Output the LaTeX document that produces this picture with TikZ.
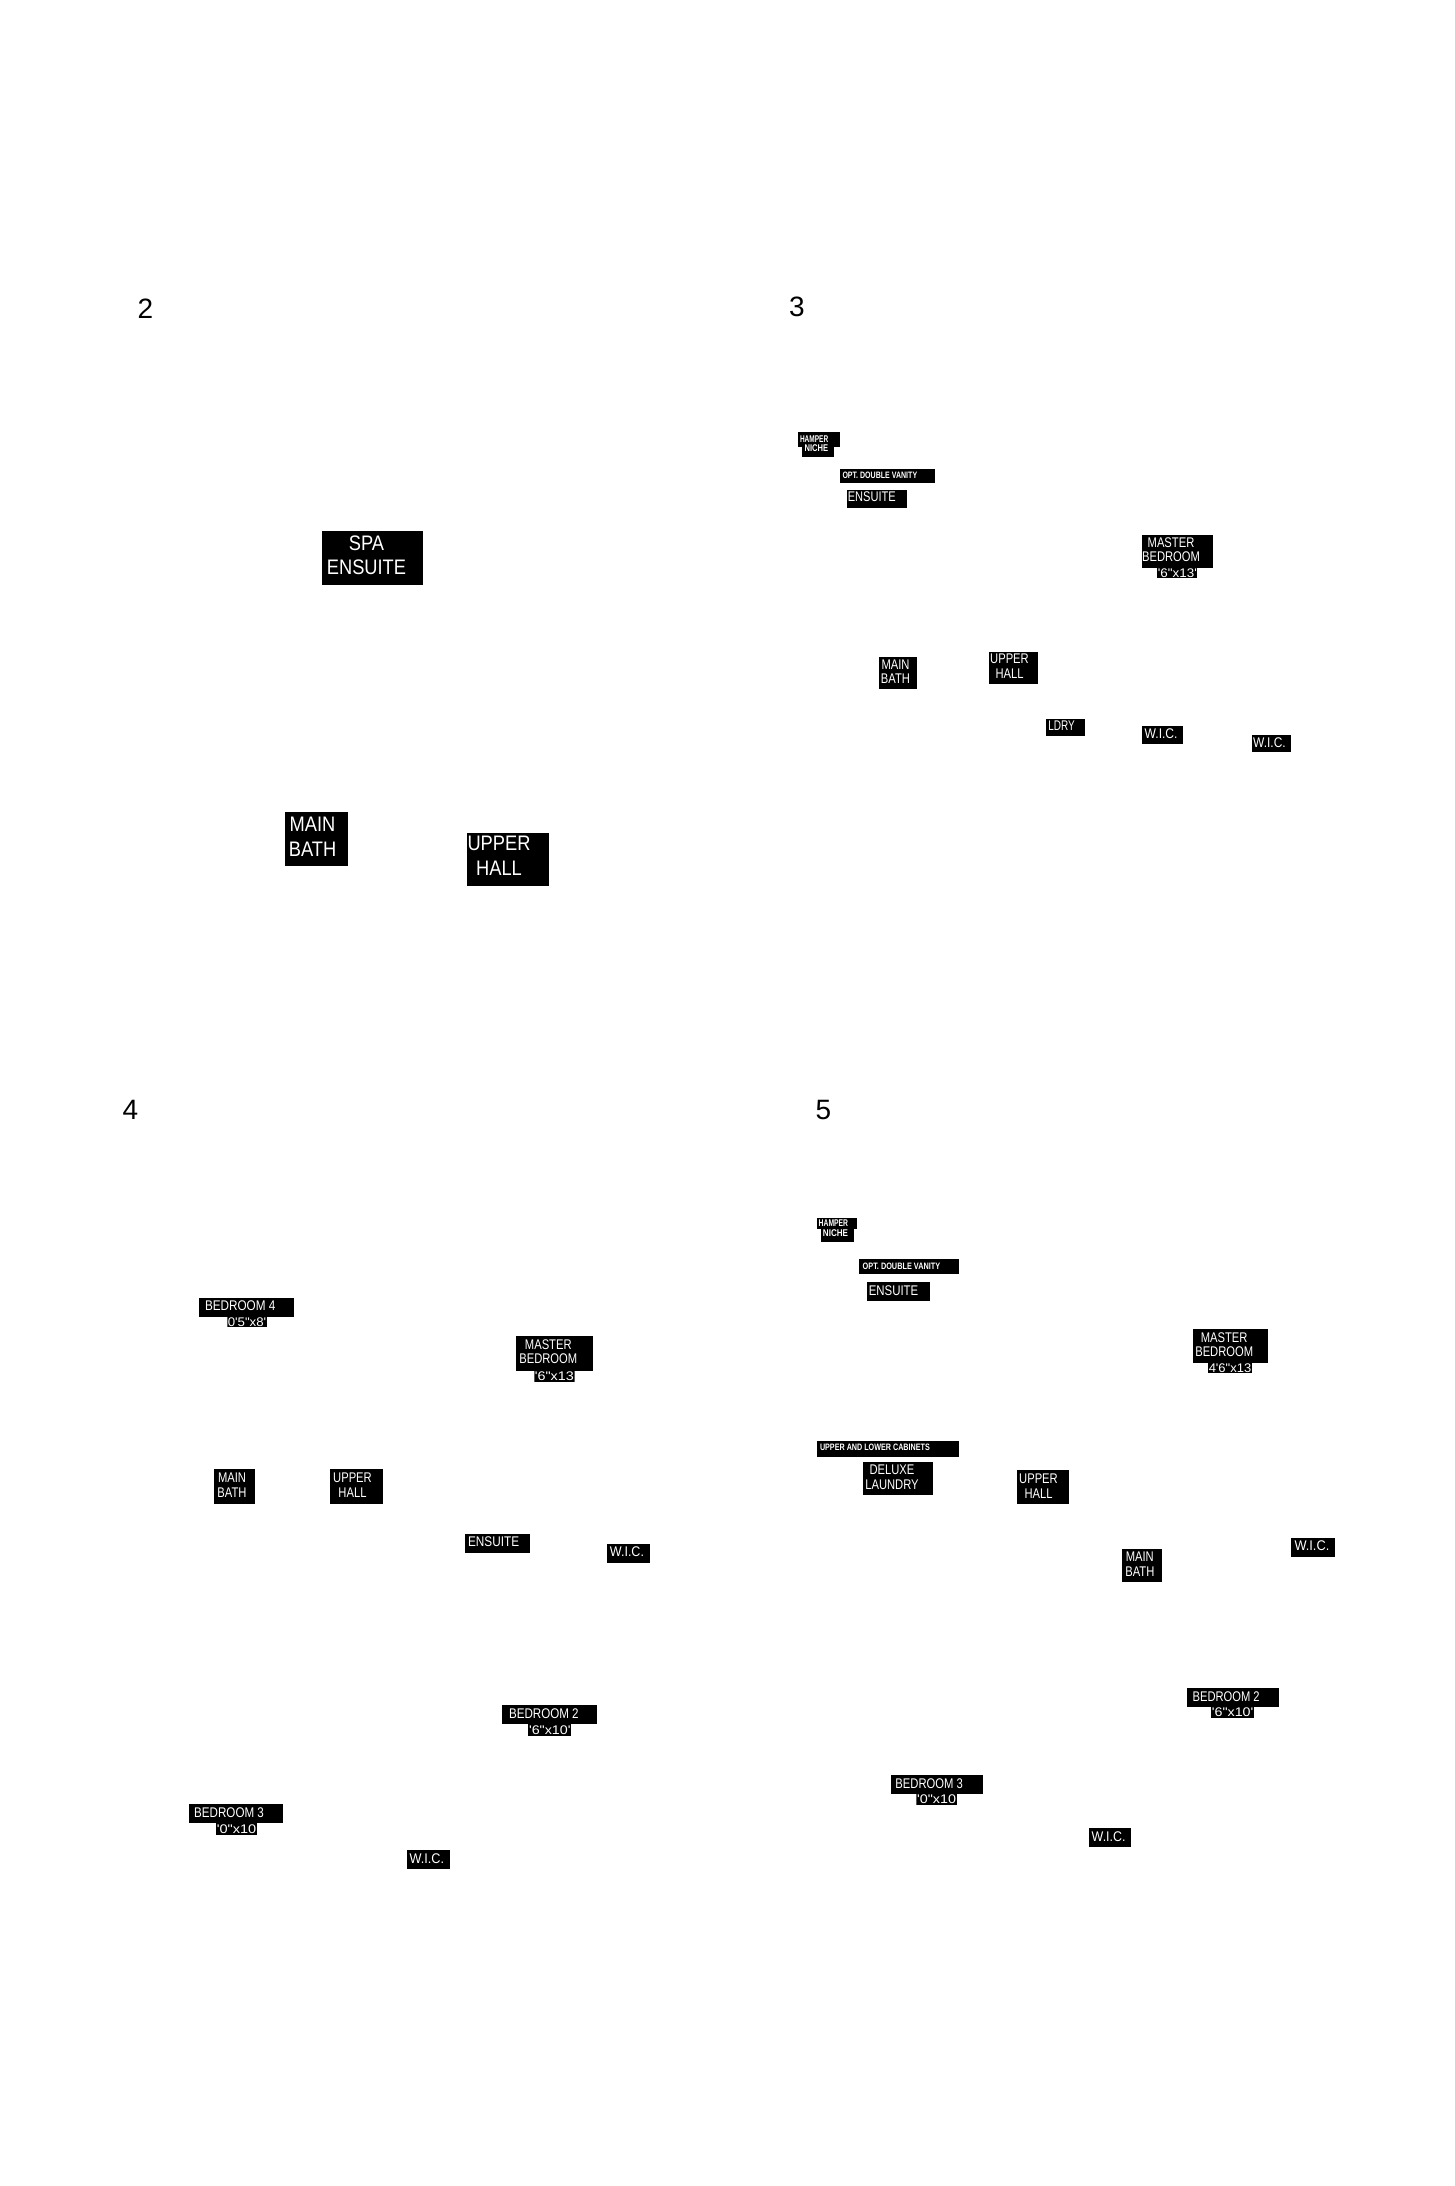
\documentclass[tikz,border=0pt]{standalone}
\usepackage{graphicx}
\usepackage{fontspec}
\setmainfont{Liberation Sans}
\newfontfamily\labfont[FakeStretch=0.8]{Liberation Sans}
\newfontfamily\bigfont[FakeStretch=0.87]{Liberation Sans}
\newfontfamily\dimfont[FakeStretch=0.8,Ligatures=TeXOff]{Liberation Sans}
\begin{document}
\begin{tikzpicture}[x=1pt,y=-1pt,
  num/.style={inner sep=0pt, font=\fontsize{28}{28}\selectfont},
  big/.style={inner sep=0pt, text=white, align=center, font=\bigfont\fontsize{21}{24.3}\selectfont},
  lab/.style={inner sep=0pt, text=white, align=center, font=\labfont\fontsize{14}{14.5}\selectfont},
  one/.style={inner sep=0pt, text=white, anchor=west, font=\labfont\fontsize{14}{14}\selectfont},
  tiny/.style={inner sep=0pt, text=white, anchor=west, font=\labfont\bfseries\fontsize{9.3}{9.3}\selectfont},
  hamline/.style={inner sep=0pt, text=white, font=\labfont\bfseries\fontsize{9.8}{9.8}\selectfont},
  dimtxt/.style={inner sep=0pt, text=white, font=\dimfont\fontsize{12.5}{12.5}\selectfont},
]
\fill[white] (0,0) rectangle (1454,2186);
\useasboundingbox (0,0) rectangle (1454,2186);

% ---------------- panel 2
\node[num] (n2) at (145.5,308.3) {2};
\fill (322.3,531) rectangle (422.7,585);
\node[big] (spa) at (366.5,555.3) {SPA\\ENSUITE};
\fill (285,812) rectangle (348,866.3);
\node[big] (mb2) at (312.5,836.8) {MAIN\\BATH};
\fill (467,832.5) rectangle (549,886.3);
\node[big] (uh2) at (499,855.8) {UPPER\\HALL};

% ---------------- panel 3
\node[num] (n3) at (797,307) {3};
\fill (797.5,432.3) rectangle (839.8,446.7);
\fill (802.4,446.7) rectangle (834.2,456.7);
\node[hamline] (ham3a) at (814.1,439.2) {\resizebox{28.2pt}{\height}{HAMPER}};
\node[hamline] (ham3b) at (816.4,448.3) {\resizebox{23.6pt}{\height}{NICHE}};
\fill (839.5,469) rectangle (935.4,483);
\node[tiny] (odv3) at (842.3,475) {\resizebox{74.7pt}{\height}{OPT. DOUBLE VANITY}};
\fill (846.5,490) rectangle (907.2,508);
\node[one] (ens3) at (847.6,497) {\resizebox{47.9pt}{\height}{ENSUITE}};
\fill (1142,535) rectangle (1212.9,568);
\node[lab] (mbr3) at (1171,549.8) {MASTER\\BEDROOM};
\begin{scope}
\clip (1157.2,568) rectangle (1197.4,578);
\fill (1157.2,568) rectangle (1197.4,578);
\node[dimtxt] (d3) at (1177.3,573) {\resizebox{39pt}{\height}{'6"x13'}};
\end{scope}
\fill (878.6,657) rectangle (917,689);
\node[lab] (mb3) at (895.5,671.7) {MAIN\\BATH};
\fill (989,652) rectangle (1038.3,684);
\node[lab] (uh3) at (1009.5,666.3) {UPPER\\HALL};
\fill (1045.7,719) rectangle (1084.9,736);
\node[one] (ld3) at (1048.2,726) {\resizebox{26.5pt}{\height}{LDRY}};
\fill (1142,726) rectangle (1182.5,744);
\node[one] (w3a) at (1144.5,734) {\resizebox{32.8pt}{\height}{W.I.C.}};
\fill (1251.7,735) rectangle (1291.2,752);
\node[one] (w3b) at (1253,742.7) {\resizebox{32.5pt}{\height}{W.I.C.}};

% ---------------- panel 4
\node[num] (n4) at (130.5,1110) {4};
\fill (199.4,1298) rectangle (294.2,1317);
\node[one] (b4) at (204.8,1306) {\resizebox{70.4pt}{\height}{BEDROOM 4}};
\begin{scope}
\clip (227.4,1317) rectangle (266.9,1327);
\fill (227.4,1317) rectangle (266.9,1327);
\node[dimtxt] (d4a) at (247,1322) {\resizebox{38.5pt}{\height}{0'5"x8'}};
\end{scope}
\fill (516,1336) rectangle (593.2,1371);
\node[lab] (mbr4) at (548.3,1351.8) {MASTER\\BEDROOM};
\begin{scope}
\clip (534.3,1371) rectangle (574.5,1382);
\fill (534.3,1371) rectangle (574.5,1382);
\node[dimtxt] (d4b) at (554.4,1376.5) {\resizebox{39pt}{\height}{'6"x13}};
\end{scope}
\fill (213.8,1469) rectangle (254.7,1504);
\node[lab] (mb4) at (232,1485) {MAIN\\BATH};
\fill (330,1469) rectangle (383.2,1504);
\node[lab] (uh4) at (352.5,1485) {UPPER\\HALL};
\fill (465,1534) rectangle (530.4,1553);
\node[one] (e4) at (467.9,1542) {\resizebox{51pt}{\height}{ENSUITE}};
\fill (606.5,1544) rectangle (649.9,1563);
\node[one] (w4a) at (609.7,1552) {\resizebox{34.1pt}{\height}{W.I.C.}};
\fill (502.4,1705) rectangle (596.8,1724);
\node[one] (b24) at (508.8,1714) {\resizebox{69.7pt}{\height}{BEDROOM 2}};
\begin{scope}
\clip (528.2,1724) rectangle (571.3,1736);
\fill (528.2,1724) rectangle (571.3,1736);
\node[dimtxt] (d4c) at (549.8,1730) {\resizebox{41.5pt}{\height}{'6"x10'}};
\end{scope}
\fill (188.7,1804) rectangle (283.4,1823);
\node[one] (b34) at (194,1812.3) {\resizebox{69.7pt}{\height}{BEDROOM 3}};
\begin{scope}
\clip (215.9,1823) rectangle (257.2,1835);
\fill (215.9,1823) rectangle (257.2,1835);
\node[dimtxt] (d4d) at (236.5,1829) {\resizebox{39.5pt}{\height}{'0"x10}};
\end{scope}
\fill (406.5,1850) rectangle (450,1869);
\node[one] (w4b) at (409.4,1858.3) {\resizebox{34.5pt}{\height}{W.I.C.}};

% ---------------- panel 5
\node[num] (n5) at (823.5,1110) {5};
\fill (816.9,1218) rectangle (857.1,1229);
\fill (820.5,1229) rectangle (853.5,1242);
\node[hamline] (ham5a) at (833.4,1223.2) {\resizebox{29.4pt}{\height}{HAMPER}};
\node[hamline] (ham5b) at (835.5,1233.3) {\resizebox{25.1pt}{\height}{NICHE}};
\fill (858.6,1259) rectangle (959.4,1274);
\node[tiny] (odv5) at (862.5,1266) {\resizebox{77.5pt}{\height}{OPT. DOUBLE VANITY}};
\fill (866.5,1282) rectangle (930,1301);
\node[one] (e5) at (868.6,1290.3) {\resizebox{49.5pt}{\height}{ENSUITE}};
\fill (1193.4,1329) rectangle (1268.1,1363);
\node[lab] (mbr5) at (1224.2,1344.5) {MASTER\\BEDROOM};
\begin{scope}
\clip (1208.2,1363) rectangle (1252,1373);
\fill (1208.2,1363) rectangle (1252,1373);
\node[dimtxt] (d5a) at (1230,1368) {\resizebox{42.5pt}{\height}{4'6"x13}};
\end{scope}
\fill (817.3,1441) rectangle (959.4,1457);
\node[tiny] (ulc5) at (819.8,1447.7) {\resizebox{109.8pt}{\height}{UPPER AND LOWER CABINETS}};
\fill (863.2,1462) rectangle (933.2,1495);
\node[lab] (lau5) at (892,1477.2) {DELUXE\\LAUNDRY};
\fill (1016.5,1470) rectangle (1068.5,1504);
\node[lab] (uh5) at (1038.5,1486) {UPPER\\HALL};
\fill (1291.4,1538) rectangle (1334.5,1557);
\node[one] (w5a) at (1294.3,1546) {\resizebox{34.8pt}{\height}{W.I.C.}};
\fill (1122,1549) rectangle (1162.2,1582);
\node[lab] (mb5) at (1139.8,1564.2) {MAIN\\BATH};
\fill (1187,1688) rectangle (1279.2,1707);
\node[one] (b25) at (1192.4,1696.7) {\resizebox{67.1pt}{\height}{BEDROOM 2}};
\begin{scope}
\clip (1211,1707) rectangle (1254.1,1718);
\fill (1211,1707) rectangle (1254.1,1718);
\node[dimtxt] (d5b) at (1232.6,1712.5) {\resizebox{41.5pt}{\height}{'6"x10'}};
\end{scope}
\fill (890.5,1775) rectangle (982.8,1794);
\node[one] (b35) at (895.2,1783.3) {\resizebox{67.4pt}{\height}{BEDROOM 3}};
\begin{scope}
\clip (916.3,1794) rectangle (956.9,1805);
\fill (916.3,1794) rectangle (956.9,1805);
\node[dimtxt] (d5c) at (936.6,1799.5) {\resizebox{39pt}{\height}{'0"x10}};
\end{scope}
\fill (1089,1828) rectangle (1131.4,1847);
\node[one] (w5b) at (1091.5,1836.7) {\resizebox{33.8pt}{\height}{W.I.C.}};
\end{tikzpicture}
\end{document}
